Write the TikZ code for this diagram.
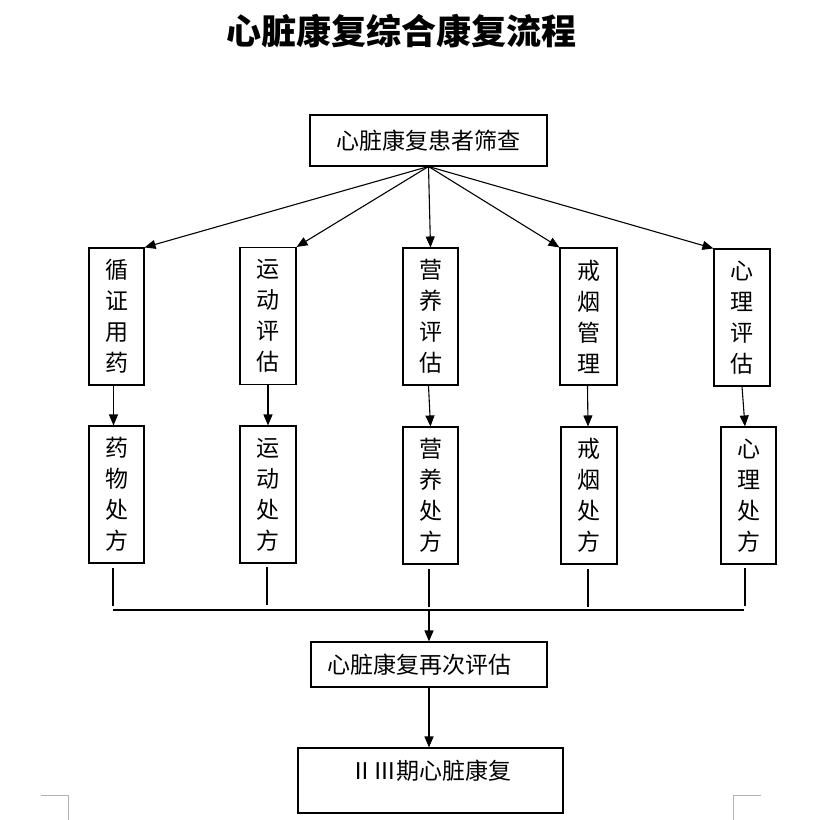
\documentclass[tikz,border=0pt]{standalone}
\usepackage{fontspec}
\setmainfont{Noto Sans CJK SC}
\usetikzlibrary{arrows.meta}
\begin{document}
\begin{tikzpicture}[x=1pt,y=-1pt,
  box/.style={draw, line width=1.1pt, inner sep=0pt, font=\fontsize{23}{31}\selectfont, align=center},
  vbox/.style={box, minimum width=56pt, minimum height=137pt},
  arr/.style={line width=1.1pt, -{Triangle[length=11pt,width=9pt]}},
  ln/.style={line width=1.1pt},
  cornermark/.style={line width=0.8pt, draw=black!30}
]
\useasboundingbox (0,0) rectangle (818,820);

\node (title) at (401,31) {\fontsize{35}{40}\selectfont\bfseries 心脏康复综合康复流程};

\node[box, minimum width=237pt, minimum height=51pt] (top) at (428.5,140.5) {心脏康复患者筛查};

\node[vbox, minimum width=55pt] (a1) at (116.5,316.5) {循\\证\\用\\药};
\node[vbox] (a2) at (268,316) {运\\动\\评\\估};
\node[vbox, minimum width=55pt] (a3) at (430.5,316.5) {营\\养\\评\\估};
\node[vbox, minimum width=57pt] (a4) at (588.5,316.5) {戒\\烟\\管\\理};
\node[vbox] (a5) at (742,317.5) {心\\理\\评\\估};

\node[vbox, minimum width=55pt] (p1) at (116.5,494.5) {药\\物\\处\\方};
\node[vbox] (p2) at (268,494.5) {运\\动\\处\\方};
\node[vbox, minimum width=55pt] (p3) at (430.5,495.5) {营\\养\\处\\方};
\node[vbox] (p4) at (589,495.5) {戒\\烟\\处\\方};
\node[vbox, minimum width=55pt] (p5) at (748.5,495.5) {心\\理\\处\\方};

\node[box, minimum width=236pt, minimum height=45pt] (re) at (429,664.5) {心脏康复再次评估\kern20pt};
\node[box, minimum width=265pt, minimum height=65pt, text height=20pt, text depth=22.6pt] (bot) at (430.5,780.5) {ⅡⅢ期心脏康复};

% fan arrows
\coordinate (fan) at (428.5,166.5);
\draw[arr] (fan) -- (a1.north east);
\draw[arr] (fan) -- (a2.north east);
\draw[arr] (fan) -- (a3.north);
\draw[arr] (fan) -- (a4.north west);
\draw[arr] (fan) -- (a5.north west);

% assessment -> prescription
\draw[arr] ([xshift=-3pt]a1.south) -- ([xshift=-3pt]p1.north);
\draw[arr] (a2.south) -- (p2.north);
\draw[arr] ([xshift=-2pt]a3.south) -- (p3.north);
\draw[arr] ([xshift=-1pt]a4.south) -- ([xshift=-1pt]p4.north);
\draw[arr] (a5.south) -- ([xshift=-3.5pt]p5.north);

% collecting lines
\coordinate (c1t) at (113,568); \coordinate (c1b) at (113,606);
\coordinate (c2t) at (267,567); \coordinate (c2b) at (267,605);
\coordinate (c3t) at (429,569); \coordinate (c3b) at (429,607);
\coordinate (c4t) at (588,569); \coordinate (c4b) at (588,607);
\coordinate (c5t) at (745,568); \coordinate (c5b) at (745,606);
\draw[ln] (c1t) -- (c1b);
\draw[ln] (c2t) -- (c2b);
\draw[ln] (c3t) -- (c3b);
\draw[ln] (c4t) -- (c4b);
\draw[ln] (c5t) -- (c5b);
\coordinate (hl) at (113,610);
\coordinate (hr) at (744,610);
\coordinate (hm) at (429,610);
\draw[ln] (hl) -- (hr);
\draw[arr] (hm) -- (re.north);
\draw[arr] (re.south) -- (bot.north -| re.south);

% page corner marks
\coordinate (m1a) at (41,795); \coordinate (m1b) at (68,795); \coordinate (m1c) at (68,820);
\coordinate (m2a) at (761,795); \coordinate (m2b) at (733,795); \coordinate (m2c) at (733,820);
\draw[cornermark] (m1a) -- (m1b) -- (m1c);
\draw[cornermark] (m2a) -- (m2b) -- (m2c);
\end{tikzpicture}
\end{document}
